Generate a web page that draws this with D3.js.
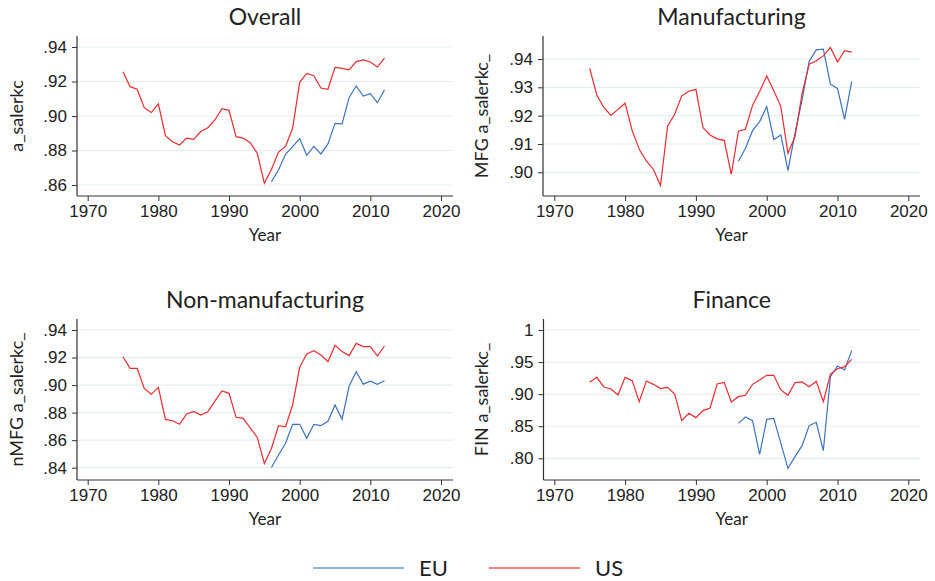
<!DOCTYPE html>
<html>
<head>
<meta charset="utf-8">
<script src="https://cdn.jsdelivr.net/npm/d3@7"></script>
<style>
  body { margin: 0; background: #fff; }
  svg { display: block; font-family: Lato, "Open Sans", sans-serif; }
  .tick text { fill: #222; }
</style>
</head>
<body>
<svg id="chart" width="935" height="581"></svg>
<script>
const usYears = d3.range(1975, 2013);
const euYears = d3.range(1996, 2013);

const overallUS = [.9257, .917, .9155, .9048, .902, .907, .8886, .8851, .8832, .8872,
  .8865, .891, .8932, .8977, .9043, .9033, .888, .8872, .8845, .8784,
  .861, .869, .8791, .8824, .8929, .9195, .9247, .9234, .9162, .9155,
  .9282, .9276, .9268, .9315, .9325, .9313, .9284, .9336];
const overallEU = [.8619, .8687, .8778, .8822, .8869, .8772, .8824, .878, .8838, .8957,
  .8954, .9108, .9174, .9116, .9129, .9077, .9151];

const mfgUS = [.9367, .9273, .9229, .9201, .9222, .9244, .9147, .9081, .904, .901,
  .8953, .9163, .9205, .927, .9286, .9293, .9158, .9132, .9118, .9113,
  .8993, .9145, .9152, .9236, .9285, .934, .9288, .9232, .9067, .9126,
  .9279, .9382, .9394, .9411, .9441, .9389, .9429, .9424];
const mfgEU = [.9039, .9085, .9147, .9179, .9232, .9116, .9132, .9006, .9138, .9256,
  .9392, .9432, .9435, .9311, .9296, .9187, .932];

const nmfgUS = [.9206, .9122, .9122, .8976, .8933, .8983, .8751, .8741, .8715, .879,
  .8809, .8782, .8806, .8884, .8957, .894, .8766, .8758, .869, .862,
  .8431, .854, .8705, .8697, .8855, .9129, .9226, .925, .9218, .917,
  .9289, .9243, .9214, .9303, .9279, .9279, .9211, .9284];
const nmfgEU = [.8402, .8492, .8577, .8715, .8715, .8613, .8715, .8705, .8737, .8855,
  .8751, .8993, .9097, .9007, .9029, .9005, .9031];

const finUS = [.9184, .9262, .9112, .9081, .8987, .9262, .921, .8883, .9205, .9153,
  .9086, .9106, .9003, .8587, .8701, .8634, .8743, .8784, .9158, .9184,
  .8878, .8961, .8982, .9153, .9221, .9294, .9294, .9065, .8982, .9179,
  .919, .9117, .92, .8883, .9314, .9397, .9429, .9543];
const finEU = [.8545, .8644, .8587, .8062, .8608, .8623, .8234, .7844, .8026, .8197,
  .8509, .8561, .8119, .9273, .9439, .9377, .9678];

const yearTicks = [1970, 1980, 1990, 2000, 2010, 2020];
const panelTitles = ["Overall", "Manufacturing", "Non-manufacturing", "Finance"];
const yTitles = ["a_salerkc", "MFG a_salerkc_", "nMFG a_salerkc_", "FIN a_salerkc_"];
const yTicks = [
  [.86, .88, .90, .92, .94],
  [.90, .91, .92, .93, .94],
  [.84, .86, .88, .90, .92, .94],
  [.80, .85, .90, .95, 1]
];
const seriesNames = ["EU", "US"];

const colors = { EU: "#3d72c0", US: "#ec2a30" };
const legendColors = { EU: "#6a98d0", US: "#ee5a5c" };

// layout of each plot area (pixel anchors for first/last ticks)
const panels = [
  { x0: 87.7, x1: 441, left: 77, right: 453, yLo: .86, yHi: .94, pyLo: 185, pyHi: 47, top: 36, bottom: 196, titleY: 25, ylabX: 17, us: overallUS, eu: overallEU },
  { x0: 554.3, x1: 908.3, left: 543, right: 920, yLo: .90, yHi: .94, pyLo: 172.3, pyHi: 59, top: 36, bottom: 196, titleY: 25, ylabX: 482, us: mfgUS, eu: mfgEU },
  { x0: 87.7, x1: 441, left: 77, right: 453, yLo: .84, yHi: .94, pyLo: 467.7, pyHi: 330, top: 319, bottom: 480, titleY: 308, ylabX: 17, us: nmfgUS, eu: nmfgEU },
  { x0: 554.3, x1: 908.3, left: 543.5, right: 920, yLo: .80, yHi: 1, pyLo: 458.3, pyHi: 330, top: 319, bottom: 480, titleY: 308, ylabX: 482, us: finUS, eu: finEU }
];

const svg = d3.select("#chart");

function fmtTick(d) {
  if (d === 1) return "1";
  return d3.format(".2f")(d).replace(/^0/, "");
}

panels.forEach((p, i) => {
  const x = d3.scaleLinear().domain([1970, 2020]).range([p.x0, p.x1]);
  const y = d3.scaleLinear().domain([p.yLo, p.yHi]).range([p.pyLo, p.pyHi]);
  const g = svg.append("g");

  // gridlines
  g.append("g")
    .selectAll("line")
    .data(yTicks[i])
    .join("line")
    .attr("x1", p.left)
    .attr("x2", p.right)
    .attr("y1", (d) => y(d))
    .attr("y2", (d) => y(d))
    .attr("stroke", "#e3eef0")
    .attr("stroke-width", 1.2);

  // y axis
  const yAxis = g.append("g")
    .attr("transform", `translate(${p.left},0)`)
    .call(d3.axisLeft(y).tickValues(yTicks[i]).tickSize(5).tickPadding(5).tickFormat(fmtTick));
  yAxis.select(".domain").remove();
  yAxis.selectAll(".tick line").attr("stroke", "#333");
  yAxis.selectAll(".tick text").attr("font-size", 17);
  g.append("line")
    .attr("x1", p.left).attr("x2", p.left)
    .attr("y1", p.top).attr("y2", p.bottom)
    .attr("stroke", "#333").attr("stroke-width", 1.2);

  // x axis
  const xAxis = g.append("g")
    .attr("transform", `translate(0,${p.bottom})`)
    .call(d3.axisBottom(x).tickValues(yearTicks).tickSize(5).tickPadding(4).tickFormat(d3.format("d")));
  xAxis.select(".domain").remove();
  xAxis.selectAll(".tick line").attr("stroke", "#333");
  xAxis.selectAll(".tick text").attr("font-size", 17);
  g.append("line")
    .attr("x1", p.left).attr("x2", p.right)
    .attr("y1", p.bottom).attr("y2", p.bottom)
    .attr("stroke", "#333").attr("stroke-width", 1.2);

  // titles
  g.append("text")
    .attr("x", (p.left + p.right) / 2)
    .attr("y", p.titleY)
    .attr("text-anchor", "middle")
    .attr("font-size", 23)
    .attr("fill", "#222")
    .text(panelTitles[i]);

  g.append("text")
    .attr("x", (p.left + p.right) / 2)
    .attr("y", p.bottom + 45)
    .attr("text-anchor", "middle")
    .attr("font-size", 17)
    .attr("fill", "#222")
    .text("Year");

  g.append("text")
    .attr("transform", `translate(${p.ylabX + 6},${(p.top + p.bottom) / 2}) rotate(-90)`)
    .attr("text-anchor", "middle")
    .attr("font-size", 18)
    .attr("fill", "#222")
    .text(yTitles[i]);

  const line = d3.line()
    .x((d) => x(d[0]))
    .y((d) => y(d[1]));

  g.append("path")
    .datum(euYears.map((yr, k) => [yr, p.eu[k]]))
    .attr("d", line)
    .attr("fill", "none")
    .attr("stroke", colors.EU)
    .attr("stroke-width", 1.2);

  g.append("path")
    .datum(usYears.map((yr, k) => [yr, p.us[k]]))
    .attr("d", line)
    .attr("fill", "none")
    .attr("stroke", colors.US)
    .attr("stroke-width", 1.2);
});

// legend
const legend = svg.append("g");
const legendX = [313, 489];
seriesNames.forEach((name, i) => {
  legend.append("line")
    .attr("x1", legendX[i]).attr("x2", legendX[i] + 91)
    .attr("y1", 568).attr("y2", 568)
    .attr("stroke", legendColors[name])
    .attr("stroke-width", 1.6);
  legend.append("text")
    .attr("x", legendX[i] + 106)
    .attr("y", 576)
    .attr("font-size", 22)
    .attr("fill", "#222")
    .text(name);
});
</script>
</body>
</html>
